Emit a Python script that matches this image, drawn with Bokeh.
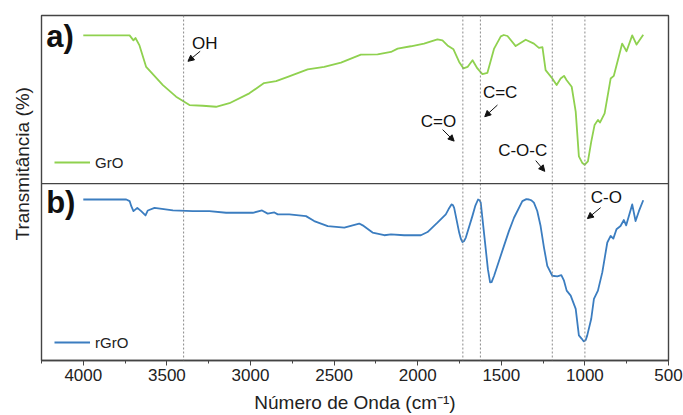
from bokeh.plotting import figure
from bokeh.models import Range1d, Span, Label, Arrow, NormalHead, Legend, LegendItem, FixedTicker, Title
from bokeh.embed import file_html
from bokeh.resources import INLINE

# ---------------- data ----------------
# GrO (panel a): wavenumber (cm-1) and transmittance (a.u., 0-100 within panel)
gro_wn = [4000, 3723, 3700, 3688, 3664, 3624, 3524, 3445, 3365, 3285, 3206, 3126, 3007, 2919,
          2847, 2777, 2658, 2559, 2459, 2340, 2240, 2160, 2120, 2041, 1962, 1882, 1852, 1822,
          1786, 1752, 1726, 1702, 1672, 1643, 1613, 1583, 1543, 1503, 1485, 1463, 1414, 1354, 1305,
          1275, 1254, 1235, 1195, 1169, 1145, 1125, 1109, 1079, 1055, 1036, 1015, 1002, 982,
          962, 942, 922, 910, 882, 846, 827, 777, 751, 717, 691, 651]
gro_t = [88.2, 88.2, 85.2, 86.6, 82.2, 69.4, 58.6, 51.7, 46.7, 46.3, 45.7, 47.8, 53.7, 59.8,
         60.9, 63.5, 67.9, 69.4, 72.0, 76.7, 76.9, 78.3, 80.3, 81.7, 83.3, 85.8, 85.2, 82.2,
         79.9, 72.4, 68.5, 69.4, 73.4, 68.5, 65.1, 65.9, 80.3, 87.6, 88.4, 87.8, 81.8, 85.6, 83.3,
         80.7, 81.2, 67.5, 62.5, 58.6, 62.5, 64.1, 61.5, 57.6, 42.8, 16.2, 12.2, 11.2, 13.2,
         25.0, 34.9, 37.9, 36.3, 41.8, 62.5, 64.1, 83.3, 78.7, 88.2, 82.7, 88.6]

# rGrO (panel b)
rgro_wn = [4000, 3743, 3723, 3713, 3700, 3677, 3654, 3628, 3614, 3574, 3464, 3345, 3246, 3146,
           2986, 2931, 2897, 2857, 2837, 2768, 2668, 2619, 2538, 2439, 2350, 2329, 2270, 2200,
           2160, 2081, 1981, 1941, 1882, 1832, 1815, 1798, 1790, 1782, 1752, 1742, 1732, 1722,
           1712, 1673, 1655, 1639, 1630, 1623, 1593, 1580, 1567, 1558, 1543, 1484, 1455, 1424,
           1374, 1350, 1334, 1320, 1305, 1285, 1265, 1245, 1225, 1195, 1165, 1141, 1125,
           1109, 1085, 1055, 1036, 1020, 1012, 1006, 995, 986, 962, 946, 922, 896, 866, 846, 830,
           811, 787, 767, 753, 717, 697, 677, 651]
rgro_t = [91.0, 91.0, 90.1, 87.2, 84.4, 86.3, 84.4, 82.0, 84.8, 86.3, 84.8, 84.4, 84.4, 83.5,
          83.5, 84.8, 83.0, 83.7, 82.6, 82.6, 81.6, 78.8, 76.0, 75.1, 77.4, 76.4, 72.3, 70.8,
          71.3, 70.8, 70.8, 72.6, 77.9, 82.6, 85.6, 88.2, 87.9, 86.3, 72.3, 68.8, 67.0, 67.6,
          69.5, 81.6, 87.6, 91.0, 90.6, 89.2, 62.9, 51.5, 44.2, 44.3, 47.9, 64.8, 73.0, 80.7,
          90.1, 91.2, 91.0, 90.5, 89.2, 84.5, 76.0, 64.0, 53.5, 47.9, 47.6, 48.3, 45.1,
          39.5, 36.7, 29.2, 14.2, 12.4, 11.4, 10.8, 11.6, 14.2, 23.6, 34.8, 39.5, 49.8, 66.7, 70.4,
          68.9, 74.2, 76.0, 79.4, 76.4, 88.2, 78.8, 84.4, 90.6]

x_ticks = [4000, 3500, 3000, 2500, 2000, 1500, 1000, 500]
x_minor = [4250, 3750, 3250, 2750, 2250, 1750, 1250, 750]

band_lines = [3400, 1730, 1625, 1195, 1000]

ann_text = ["OH", "C=O", "C=C", "C-O-C", "C-O"]
ann_x = [3274, 1876, 1507, 1372, 872]
ann_y = [179.3, 135.2, 151.2, 118.6, 92.2]
arr_x0 = [3301, 1851, 1523, 1294, 906]
arr_y0 = [174.8, 130.5, 144.4, 113.0, 86.4]
arr_x1 = [3374, 1782, 1599, 1240, 985]
arr_y1 = [169.1, 124.0, 137.8, 106.9, 80.2]

# ---------------- layout of the two stacked panels ----------------
TOP_BASE = 100.0      # separator between panels
TOP_SCALE = 0.95      # top panel height relative to bottom panel
gro_y = [TOP_BASE + t * TOP_SCALE for t in gro_t]
rgro_y = list(rgro_t)

FONT = "Liberation Sans"
GREEN = "#8fd14f"
BLUE = "#3b7dc0"
FRAME = "#444444"

p = figure(width=683, height=415, output_backend="svg", toolbar_location=None,
           x_range=Range1d(4250, 500), y_range=Range1d(0, 195),
           min_border_left=40, min_border_right=15, min_border_top=15, min_border_bottom=53)
p.background_fill_color = "white"
p.border_fill_color = "white"
p.outline_line_color = FRAME
p.outline_line_width = 1.4
p.xgrid.visible = False
p.ygrid.visible = False
p.yaxis.visible = False

ax = p.xaxis[0]
ax.ticker = FixedTicker(ticks=x_ticks, minor_ticks=x_minor)
ax.axis_line_color = FRAME
ax.axis_line_width = 1.4
ax.major_tick_line_color = FRAME
ax.minor_tick_line_color = FRAME
ax.major_tick_in = 0
ax.major_tick_out = 5
ax.minor_tick_in = 0
ax.minor_tick_out = 3
ax.major_label_text_font = FONT
ax.major_label_text_font_size = "17px"
ax.major_label_text_color = "#222222"
ax.major_label_standoff = 3
ax.axis_label = "Número de Onda (cm⁻¹)"
ax.axis_label_text_font = FONT
ax.axis_label_text_font_size = "19px"
ax.axis_label_text_font_style = "normal"
ax.axis_label_text_color = "#222222"
ax.axis_label_standoff = 8

# vertical title on the left
p.add_layout(Title(text="Transmitância (%)", align="left", offset=120, standoff=18,
                   text_font=FONT, text_font_size="19px", text_font_style="normal",
                   text_color="#222222"), "left")

# vertical dotted band markers
for wn in band_lines:
    p.add_layout(Span(location=wn, dimension="height", line_color="#8a8a8a",
                      line_dash="2 2", line_width=1))
# separator between panels
p.add_layout(Span(location=TOP_BASE, dimension="width", line_color=FRAME, line_width=1.4))

r_top = p.line(gro_wn, gro_y, line_color=GREEN, line_width=1.8, line_join="round")
r_bot = p.line(rgro_wn, rgro_y, line_color=BLUE, line_width=1.8, line_join="round")

for items, loc in (([LegendItem(label="GrO", renderers=[r_top])], (13, 188)),
                   ([LegendItem(label="rGrO", renderers=[r_bot])], (13, 8))):
    lg = Legend(items=items, location=loc, glyph_width=36, glyph_height=20, label_height=20,
                label_standoff=5, padding=0, margin=0, spacing=0,
                border_line_alpha=0, background_fill_alpha=0,
                label_text_font=FONT, label_text_font_size="15px", label_text_color="#222222")
    p.add_layout(lg, "center")

# panel letters
for txt, yy in (("a)", 183.2), ("b)", 89.3)):
    p.add_layout(Label(x=4222, y=yy, text=txt, text_font=FONT, text_font_size="31px",
                       text_font_style="bold", text_align="left", text_baseline="middle",
                       text_color="#111111"))

# band annotations
for t, x, y in zip(ann_text, ann_x, ann_y):
    p.add_layout(Label(x=x, y=y, text=t, text_font=FONT, text_font_size="17px",
                       text_align="center", text_baseline="middle", text_color="#111111"))
for x0, y0, x1, y1 in zip(arr_x0, arr_y0, arr_x1, arr_y1):
    p.add_layout(Arrow(x_start=x0, y_start=y0, x_end=x1, y_end=y1, line_color="#111111",
                       line_width=1,
                       end=NormalHead(size=6, fill_color="#111111", line_color="#111111")))

open("out.html", "w").write(file_html(p, INLINE))
